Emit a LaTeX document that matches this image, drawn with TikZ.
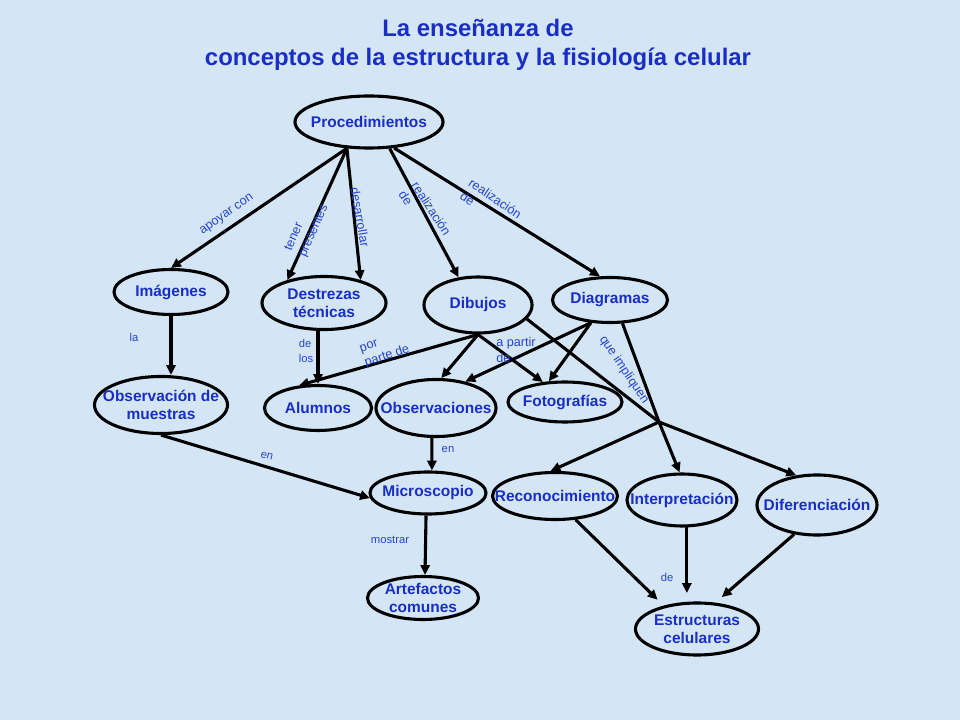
\documentclass[tikz,border=0pt]{standalone}
\usepackage{fontspec}
\setmainfont{Liberation Sans}
\usetikzlibrary{shapes.geometric,arrows.meta}
\definecolor{bgblue}{RGB}{212,229,245}
\definecolor{cblue}{RGB}{24,46,196}
\definecolor{lblue}{RGB}{40,70,205}
\begin{document}
\begin{tikzpicture}[x=0.025cm,y=-0.025cm,
    concept/.style={ellipse,draw,line width=2.2pt,inner sep=0pt},
    ctext/.style={text=cblue,font=\bfseries\fontsize{11}{13}\selectfont,align=center},
    lbl/.style={text=lblue,font=\fontsize{9}{11}\selectfont,inner sep=0pt},
    lbls/.style={lbl,font=\fontsize{8}{11}\selectfont},
    arr/.style={line width=2.2pt,-{Triangle[length=7pt,width=6.5pt]}}]
  \useasboundingbox (0,0) rectangle (960,720);
  \fill[bgblue] (0,0) rectangle (960,720);
  \node[text=cblue,font=\bfseries\fontsize{17}{21}\selectfont,align=center] (title) at (478,45)
    {La enseñanza de\\conceptos de la estructura y la fisiología celular};
  % concepts
  \node[concept,minimum width=3.7cm,minimum height=1.3cm,label={[ctext]center:Procedimientos}] (proc) at (369,122) {};
  \node[concept,minimum width=2.85cm,minimum height=1.125cm,label={[ctext]center:Imágenes}] (imag) at (171,292) {};
  \node[concept,minimum width=3.1cm,minimum height=1.325cm,label={[ctext]center:Destrezas\\técnicas}] (destr) at (324,303) {};
  \node[concept,minimum width=2.7cm,minimum height=1.4cm,label={[ctext]center:Dibujos}] (dib) at (478,305) {};
  \node[concept,minimum width=2.875cm,minimum height=1.125cm,label={[ctext]center:Diagramas}] (diag) at (610,300) {};
  \node[concept,minimum width=3.325cm,minimum height=1.425cm,label={[ctext]center:Observación de\\muestras}] (obsm) at (161,405) {};
  \node[concept,minimum width=2.675cm,minimum height=1.125cm,label={[ctext]center:Alumnos}] (alum) at (318,408) {};
  \node[concept,minimum width=3cm,minimum height=1.425cm,label={[ctext]center:Observaciones}] (obs) at (436,408) {};
  \node[concept,minimum width=2.85cm,minimum height=1cm,label={[ctext]center:Fotografías}] (foto) at (565,402) {};
  \node[concept,minimum width=2.9cm,minimum height=1.05cm,label={[ctext]center:Microscopio}] (micro) at (428,493) {};
  \node[concept,minimum width=3.125cm,minimum height=1.175cm,label={[ctext]center:Reconocimiento}] (recon) at (555,496) {};
  \node[concept,minimum width=2.75cm,minimum height=1.3cm,label={[ctext]center:Interpretación}] (interp) at (682,500) {};
  \node[concept,minimum width=3cm,minimum height=1.5cm,label={[ctext]center:Diferenciación}] (difer) at (817,505) {};
  \node[concept,minimum width=2.775cm,minimum height=1.075cm,label={[ctext]center:Artefactos\\comunes}] (artef) at (423,598) {};
  \node[concept,minimum width=3.075cm,minimum height=1.3cm,label={[ctext]center:Estructuras\\celulares}] (estr) at (697,629) {};
  \coordinate (hub) at (659,422);
  % links
  \draw[arr] (proc.-130) -- (imag.north);
  \draw[arr] (proc.-130) -- (destr.148);
  \draw[arr] (proc.-130) -- (destr.32);
  \draw[arr] (proc.-52) -- (dib.125);
  \draw[arr] (proc.-46) -- (diag.113);
  \draw[arr] (imag.south) -- (imag.south |- obsm.north);
  \draw[arr] (alum.north |- destr.south) -- (alum.north);
  \draw[arr] (dib.south) -- (alum.130);
  \draw[arr] (dib.south) -- (obs.80);
  \draw[arr] (dib.south) -- (foto.138);
  \draw[arr] (diag.-130) -- (obs.42);
  \draw[arr] (diag.-130) -- (foto.128);
  \draw[line width=2.2pt] (diag.-62) -- (hub);
  \draw[line width=2.2pt] (dib.-16) -- (hub);
  \draw[arr] (hub) -- (recon.100);
  \draw[arr] (hub) -- (interp.95);
  \draw[arr] (hub) -- (difer.125);
  \draw[arr] (obsm.south) -- (micro.185);
  \draw[arr] (obs.-98) -- (micro.80);
  \draw[arr] (micro.-95) -- (artef.85);
  \draw[arr,shorten >=6pt] (recon.-49) -- (estr.145);
  \draw[arr,shorten >=6pt] (interp.-80) -- (interp.-80 |- estr.north);
  \draw[arr,shorten >=6pt] (difer.-128) -- (estr.55);
  % link words
  \node[lbl,rotate=35] (l1) at (227,215) {apoyar con};
  \node[lbl,rotate=66,align=left] (l2) at (307,228) {tener\\presentes};
  \node[lbl,rotate=-80] (l3) at (360,217) {desarrollar};
  \node[lbl,rotate=-57,align=left] (l4) at (425,213) {realización\\de};
  \node[lbl,rotate=-34,align=left] (l5) at (491,205) {realización\\de};
  \node[lbls] (l6) at (134,337) {la};
  \node[lbls,align=left] (l7) at (306,351) {de\\los};
  \node[lbl,rotate=19,align=left] (l8) at (385,350) {por\\parte de};
  \node[lbl,align=left] (l9) at (516,350) {a partir\\de};
  \node[lbl,rotate=-56] (l10) at (624,370) {que impliquen};
  \node[lbls,rotate=-15] (l11) at (267,456) {en};
  \node[lbls] (l12) at (448,450) {en};
  \node[lbls] (l13) at (390,540) {mostrar};
  \node[lbls] (l14) at (667,577) {de};
\end{tikzpicture}
\end{document}
